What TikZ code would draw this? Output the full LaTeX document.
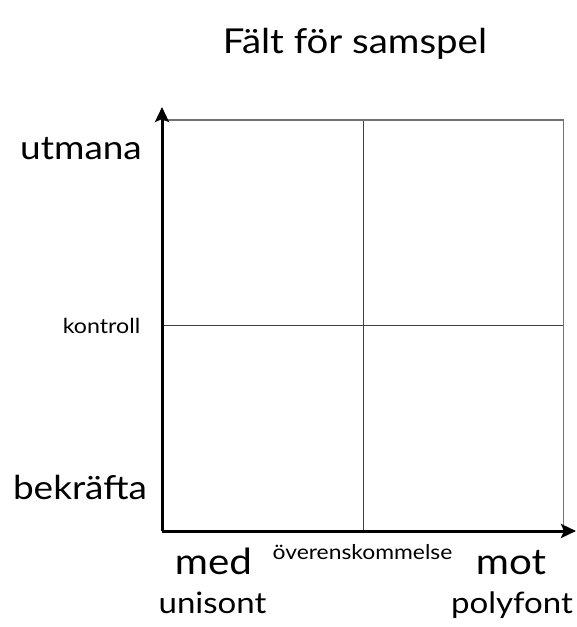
\documentclass[tikz,border=0pt]{standalone}
\usepackage{fontspec}
\setmainfont[FakeStretch=1.12]{Lato}
\usetikzlibrary{arrows.meta}
\begin{document}
\begin{tikzpicture}[x=1pt,y=-1pt,
  lbl/.style={inner sep=0pt,anchor=base},
  axis/.style={line width=3pt,-{Stealth[length=15pt,width=14pt,inset=3pt]}},
  grid/.style={line width=1pt,black!75},
  frame/.style={line width=1.5pt,black!55}]
\useasboundingbox (0,0) rectangle (577,627);
% corners
\coordinate (O) at (162,531);
\coordinate (TA) at (162,107);
\coordinate (RA) at (576,531);
\coordinate (TL) at (162,120);
\coordinate (TR) at (563.5,120);
\coordinate (BR) at (563.5,531);
\coordinate (MT) at (363,120);
\coordinate (MB) at (363,531);
\coordinate (ML) at (162,325);
\coordinate (MR) at (563.5,325);
% grid
\draw[grid] (MT) -- (MB);
\draw[grid] (ML) -- (MR);
\draw[frame] (TL) -- (TR);
\draw[frame] (TR) -- (BR);
% axes
\draw[axis] (O) -- (TA);
\draw[axis] (O) -- (RA);
% labels
\node[lbl,font=\fontsize{34.3}{40}\selectfont] (title) at (355,53) {Fält för samspel};
\node[lbl,font=\fontsize{33}{39}\selectfont] (utm) at (81,159) {utmana};
\node[lbl,font=\fontsize{33}{39}\selectfont] (bek) at (80,499) {bekräfta};
\node[lbl,font=\fontsize{20.7}{24}\selectfont] (kon) at (101.5,333) {kontroll};
\node[lbl,font=\fontsize{36}{42}\selectfont] (med) at (213.5,574) {med};
\node[lbl,font=\fontsize{36}{42}\selectfont] (mot) at (511,574) {mot};
\node[lbl,font=\fontsize{20.4}{24}\selectfont] (over) at (362.5,559) {överenskommelse};
\node[lbl,font=\fontsize{29.5}{35}\selectfont] (uni) at (212.5,613) {unisont};
\node[lbl,font=\fontsize{29.5}{35}\selectfont] (poly) at (512,613) {polyfont};
\end{tikzpicture}
\end{document}
